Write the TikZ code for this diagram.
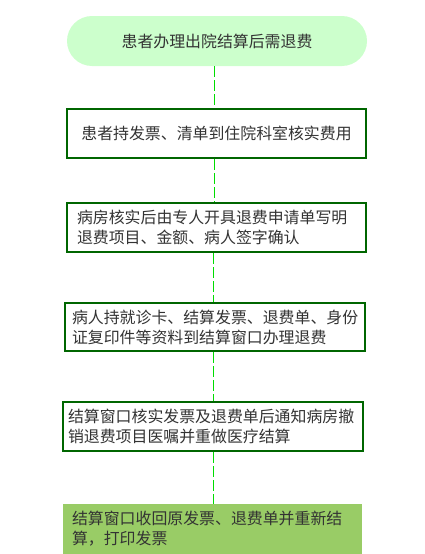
\documentclass[tikz,border=0pt]{standalone}
\usepackage{fontspec}
\setmainfont{Noto Sans CJK SC}
\usepackage{xcolor}
\usetikzlibrary{positioning,calc}
\definecolor{lineGreen}{RGB}{0,221,0}
\definecolor{boxGreen}{RGB}{0,102,0}
\definecolor{startFill}{RGB}{204,255,204}
\definecolor{endFill}{RGB}{153,204,102}
\definecolor{txtGray}{RGB}{51,51,51}
\tikzset{
  startbox/.style={fill=startFill, rounded corners=25pt, minimum width=300pt,
                   minimum height=50pt, font=\fontsize{15.9}{20}\selectfont,
                   text=txtGray, align=center},
  stepbox/.style={draw=boxGreen, line width=2pt, fill=white, minimum height=49pt,
                  font=\fontsize{15.9}{20}\selectfont, text=txtGray, align=left},
  endbox/.style={fill=endFill, minimum height=50pt,
                 font=\fontsize{15.9}{20}\selectfont, text=txtGray, align=left},
  flowline/.style={lineGreen, line width=1pt, dash pattern=on 11pt off 3pt}
}
\begin{document}
\begin{tikzpicture}[x=1pt, y=-1pt]
    \useasboundingbox (0,0) rectangle (424,554);

    % start
    \node[startbox] (start) at (217,41) {患者办理出院结算后需退费};

    % steps
    \node[stepbox, text width=279pt, inner xsep=10pt, align=center] (check) at (216.5,133.5)
      {患者持发票、清单到住院科室核实费用};
    \node[stepbox, text width=279pt, inner xsep=10pt] (apply) at (216.5,227.5)
      {病房核实后由专人开具退费申请单写明\\退费项目、金额、病人签字确认};
    \node[stepbox, text width=286pt, inner xsep=7pt, minimum height=48pt] (submit) at (215,327)
      {病人持就诊卡、结算发票、退费单、身份\\证复印件等资料到结算窗口办理退费};
    \node[stepbox, text width=290pt, inner xsep=5pt] (cancel) at (213,426.5)
      {结算窗口核实发票及退费单后通知病房撤\\销退费项目医嘱并重做医疗结算};

    % end
    \node[endbox, text width=281pt, inner xsep=9pt] (resettle) at (212.5,529)
      {结算窗口收回原发票、退费单并重新结\\算，打印发票};

    % connectors
    \draw[flowline] (start.south -| 214,0) -- (check.north -| 214,0);
    \draw[flowline] (check.south -| 214,0) -- (apply.north -| 214,0);
    \draw[flowline] (apply.south -| 213,0) -- (submit.north -| 213,0);
    \draw[flowline] (submit.south -| 213,0) -- (cancel.north -| 213,0);
    \draw[flowline] (cancel.south -| 213,0) -- (resettle.north -| 213,0);
\end{tikzpicture}
\end{document}
